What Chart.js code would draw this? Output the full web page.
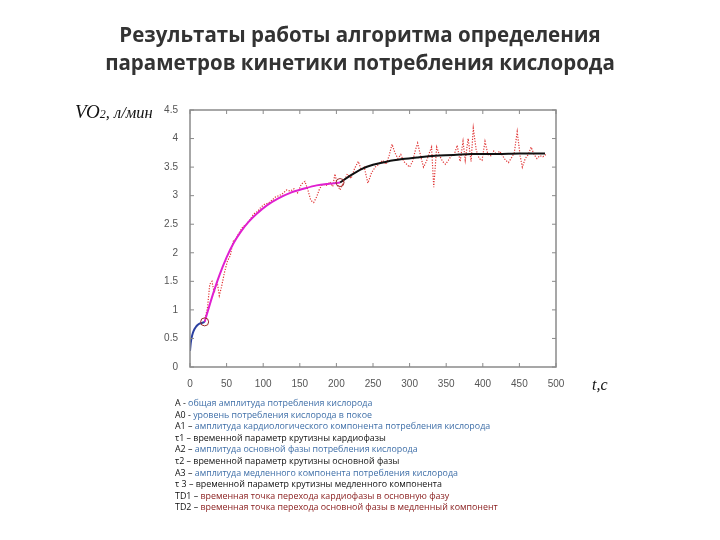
<!DOCTYPE html>
<html>
<head>
<meta charset="utf-8">
<script src="https://cdn.jsdelivr.net/npm/chart.js@4.4.1/dist/chart.umd.min.js"></script>
<style>
  body { margin: 0; background: #fff; }
  #wrap { position: relative; width: 720px; height: 540px; overflow: hidden; }
  #myChart { position: absolute; left: 0; top: 0; }
  .title { position: absolute; left: 0; width: 720px; text-align: center; font-family: "Open Sans", sans-serif; font-weight: bold; font-size: 20.5px; color: #333; }
  .ylab { position: absolute; left: 75px; top: 101px; font-family: "Liberation Serif", serif; font-style: italic; font-size: 16.5px; color: #111; }
  .ylab .big { font-size: 19px; }
  .ylab small { font-size: 12px; }
  .xlab { position: absolute; left: 592px; top: 376px; font-family: "Liberation Serif", serif; font-style: italic; font-size: 16px; color: #111; }
  #notes { position: absolute; left: 175px; top: 397px; font-family: "Open Sans", sans-serif; font-size: 8.9px; line-height: 11.6px; color: #111; white-space: nowrap; }
  .b { color: #3f6fa8; }
  .r { color: #8a2020; }
</style>
</head>
<body>
<div id="wrap">
  <canvas id="myChart" width="720" height="540"></canvas>
  <div class="title" style="top:20px">Результаты работы алгоритма определения</div>
  <div class="title" style="top:48px">параметров кинетики потребления кислорода</div>
  <div class="ylab"><span class="big">VO</span><small>2</small>, л/мин</div>
  <div class="xlab">t,c</div>
  <div id="notes">
    <div>А - <span class="b">общая амплитуда потребления кислорода</span></div>
    <div>А0 - <span class="b">уровень потребления кислорода в покое</span></div>
    <div>А1 – <span class="b">амплитуда кардиологического компонента потребления кислорода</span></div>
    <div>τ1 – временной параметр крутизны кардиофазы</div>
    <div>А2 – <span class="b">амплитуда основной фазы потребления кислорода</span></div>
    <div>τ2 – временной параметр крутизны основной фазы</div>
    <div>А3 – <span class="b">амплитуда медленного компонента потребления кислорода</span></div>
    <div>τ 3 – временной параметр крутизны медленного компонента</div>
    <div>TD1 – <span class="r">временная точка перехода кардиофазы в основную фазу</span></div>
    <div>TD2 – <span class="r">временная точка перехода основной фазы в медленный компонент</span></div>
  </div>
</div>
<script>
// measured data (red dotted)
const rawT = [20, 24, 27, 30, 33, 37, 40, 43, 47, 51, 55, 59, 63, 67, 72, 77, 82, 87, 92, 97,
  102, 107, 112, 117, 122, 127, 132, 137, 142, 147, 152, 157, 161, 165, 169, 173, 177, 181, 186, 191,
  195, 198, 201, 205, 210, 215, 220, 225, 230, 234, 238, 243, 248, 253, 258, 263, 268, 272, 276, 280,
  284, 288, 292, 296, 300, 304, 308, 311, 315, 319, 323, 327, 330, 333, 337, 341, 345, 349, 353, 357,
  361, 365, 369, 373, 376, 380, 384, 387, 391, 395, 399, 403, 407, 411, 415, 419, 423, 427, 431, 435,
  439, 443, 447, 451, 454, 458, 462, 466, 470, 474, 478, 482, 486];
const rawV = [0.8, 1.05, 1.45, 1.5, 1.3, 1.5, 1.25, 1.4, 1.65, 1.85, 1.95, 2.2, 2.25, 2.35, 2.45, 2.5, 2.58, 2.68, 2.72, 2.8,
  2.85, 2.87, 2.92, 2.98, 3.0, 3.04, 3.1, 3.08, 3.12, 3.05, 3.2, 3.25, 3.1, 2.92, 2.88, 2.98, 3.12, 3.2, 3.18, 3.24,
  3.16, 3.38, 3.2, 3.1, 3.25, 3.38, 3.3, 3.48, 3.6, 3.45, 3.5, 3.22, 3.4, 3.5, 3.55, 3.62, 3.55, 3.7, 3.9, 3.75,
  3.65, 3.72, 3.6, 3.55, 3.5, 3.6, 3.8, 3.92, 3.7, 3.5, 3.6, 3.75, 3.85, 3.15, 3.85, 3.7, 3.6, 3.55, 3.62, 3.7,
  3.72, 3.88, 3.6, 3.95, 3.62, 4.0, 3.6, 4.18, 3.8, 3.65, 3.62, 3.95, 3.72, 3.7, 3.78, 3.72, 3.78, 3.7, 3.62, 3.58,
  3.66, 3.75, 4.12, 3.7, 3.5, 3.65, 3.72, 3.85, 3.72, 3.65, 3.7, 3.68, 3.72];

// cardio phase fit (blue)
const cardioT = [0, 1, 2, 4, 6, 8, 10, 13, 16, 20];
const cardioV = [0.28, 0.42, 0.5, 0.6, 0.66, 0.7, 0.73, 0.76, 0.77, 0.79];

// main phase fit (magenta)
const mainT = [20, 30, 40, 50, 60, 70, 80, 90, 105, 120, 137, 155, 173, 190, 205];
const mainV = [0.79, 1.22, 1.6, 1.92, 2.18, 2.38, 2.54, 2.67, 2.83, 2.95, 3.05, 3.12, 3.18, 3.21, 3.23];

// slow component fit (black)
const slowT = [205, 220, 235, 250, 270, 290, 310, 335, 360, 385, 420, 450, 485];
const slowV = [3.23, 3.36, 3.47, 3.54, 3.6, 3.64, 3.67, 3.7, 3.71, 3.73, 3.73, 3.74, 3.74];

// TD1, TD2
const tdT = [20, 205];
const tdV = [0.79, 3.23];

const xTicks = [0, 50, 100, 150, 200, 250, 300, 350, 400, 450, 500];
const yTicks = [0, 0.5, 1, 1.5, 2, 2.5, 3, 3.5, 4, 4.5];

function pts(t, v) {
  return t.map(function(x, i) { return { x: x, y: v[i] }; });
}

// frame with inward ticks on all four sides
const framePlugin = {
  id: 'frame',
  afterDatasetsDraw(chart) {
    const ctx = chart.ctx;
    const a = chart.chartArea;
    const sx = chart.scales.x, sy = chart.scales.y;
    ctx.save();
    ctx.strokeStyle = '#8a8a8a';
    ctx.lineWidth = 1.5;
    ctx.strokeRect(a.left, a.top, a.right - a.left, a.bottom - a.top);
    ctx.lineWidth = 1;
    ctx.beginPath();
    xTicks.forEach(function(v) {
      const p = sx.getPixelForValue(v);
      ctx.moveTo(p, a.bottom); ctx.lineTo(p, a.bottom - 4);
      ctx.moveTo(p, a.top); ctx.lineTo(p, a.top + 4);
    });
    yTicks.forEach(function(v) {
      const p = sy.getPixelForValue(v);
      ctx.moveTo(a.left, p); ctx.lineTo(a.left + 4, p);
      ctx.moveTo(a.right, p); ctx.lineTo(a.right - 4, p);
    });
    ctx.stroke();
    ctx.restore();
  }
};

const ctx = document.getElementById('myChart').getContext('2d');
const chart = new Chart(ctx, {
  type: 'line',
  data: {
    datasets: [{
      label: 'TD',
      data: pts(tdT, tdV),
      showLine: false,
      pointRadius: 4,
      pointStyle: 'circle',
      pointBackgroundColor: 'rgba(0,0,0,0)',
      pointBorderColor: '#9a2a2a',
      pointBorderWidth: 1,
      order: 0
    }, {
      label: 'cardio',
      data: pts(cardioT, cardioV),
      borderColor: '#2a3fa0',
      borderWidth: 2,
      pointRadius: 0,
      cubicInterpolationMode: 'monotone',
      order: 1
    }, {
      label: 'main',
      data: pts(mainT, mainV),
      borderColor: '#e020d0',
      borderWidth: 2,
      pointRadius: 0,
      cubicInterpolationMode: 'monotone',
      order: 1
    }, {
      label: 'slow',
      data: pts(slowT, slowV),
      borderColor: '#111111',
      borderWidth: 2,
      pointRadius: 0,
      cubicInterpolationMode: 'monotone',
      order: 1
    }, {
      label: 'raw',
      data: pts(rawT, rawV),
      borderColor: '#e03535',
      borderWidth: 1.2,
      borderDash: [1.2, 1.5],
      pointRadius: 0,
      tension: 0,
      order: 2
    }]
  },
  options: {
    responsive: false,
    animation: false,
    devicePixelRatio: 1,
    layout: { padding: { top: 110, right: 164, left: 0, bottom: 0 } },
    plugins: { legend: { display: false }, tooltip: { enabled: false } },
    scales: {
      x: {
        type: 'linear',
        min: 0, max: 500,
        afterFit: function(s) { s.height = 173; },
        afterBuildTicks: function(s) { s.ticks = xTicks.map(function(v) { return { value: v }; }); },
        ticks: { color: '#555', font: { family: 'Liberation Sans', size: 10 }, padding: 3, maxRotation: 0 },
        grid: { display: false },
        border: { display: false }
      },
      y: {
        type: 'linear',
        min: 0, max: 4.5,
        afterFit: function(s) { s.width = 190; },
        afterBuildTicks: function(s) { s.ticks = yTicks.map(function(v) { return { value: v }; }); },
        ticks: {
          color: '#555', font: { family: 'Liberation Sans', size: 10 }, padding: 4,
          callback: function(v) { return String(v); }
        },
        grid: { display: false },
        border: { display: false }
      }
    }
  },
  plugins: [framePlugin]
});
</script>
</body>
</html>
